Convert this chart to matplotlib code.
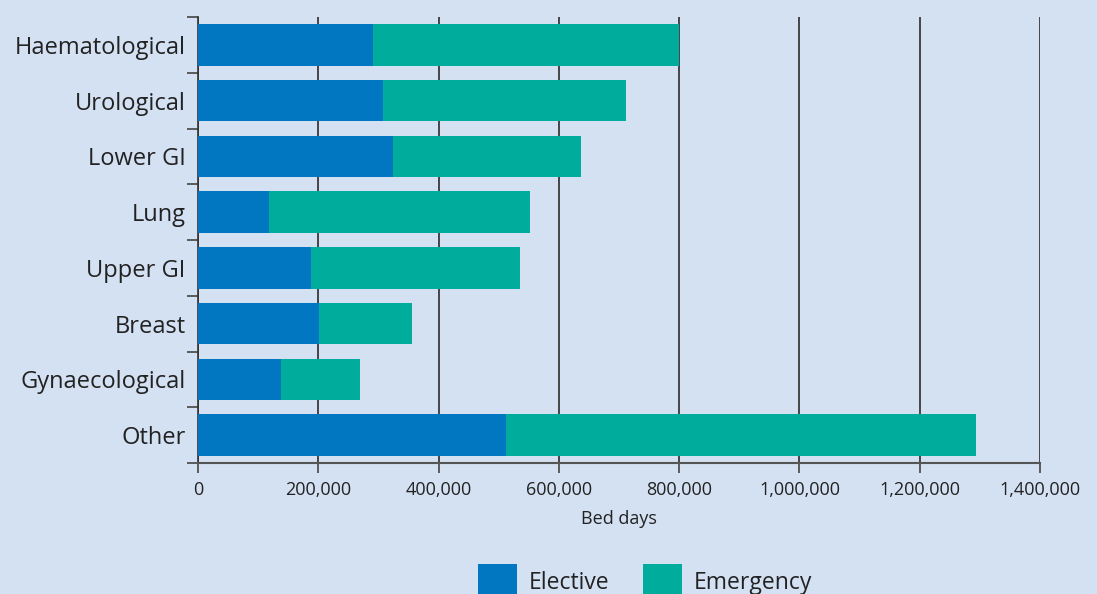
import matplotlib.pyplot as plt
import numpy as np
from matplotlib.ticker import FuncFormatter

# Bed days by tumour site
sites = ['Haematological', 'Urological', 'Lower GI', 'Lung',
         'Upper GI', 'Breast', 'Gynaecological', 'Other']
elective = [291000, 308000, 324000, 118000, 188000, 201000, 138000, 512000]
total = [799000, 711000, 637000, 552000, 535000, 356000, 269000, 1293000]
emergency = [t - e for t, e in zip(total, elective)]

bg = '#D4E1F3'
c_elec = '#0077C0'
c_emer = '#00AD9C'

plt.rcParams['font.family'] = ['Open Sans', 'DejaVu Sans']

fig = plt.figure(figsize=(10.97, 5.94), dpi=100, facecolor=bg)
ax = fig.add_axes([198 / 1097, 1 - 463 / 594, (1040 - 198) / 1097, (463 - 17) / 594])
ax.set_facecolor(bg)

y = np.arange(len(sites))
ax.barh(y, elective, height=0.74, color=c_elec, label='Elective', zorder=3)
ax.barh(y, emergency, left=elective, height=0.74, color=c_emer, label='Emergency', zorder=3)

ax.set_xlim(0, 1400000)
ax.set_ylim(len(sites) - 0.5, -0.5)

# vertical grid lines
ax.set_xticks(np.arange(0, 1400001, 200000))
ax.xaxis.set_major_formatter(FuncFormatter(lambda v, p: f'{int(v):,}'))
ax.grid(axis='x', color='#2b2b2b', linewidth=1.2, zorder=1)
ax.tick_params(axis='x', direction='out', length=7, width=1.2, color='#444444',
               labelsize=13, labelcolor='#222222', pad=6)

# category labels, ticks on category boundaries
ax.set_yticks(y)
ax.set_yticklabels(sites, fontsize=17, color='#222222')
ax.tick_params(axis='y', which='major', length=0, pad=9)
ax.set_yticks(np.arange(-0.5, len(sites)), minor=True)
ax.tick_params(axis='y', which='minor', direction='out', length=8, width=1.2, color='#444444')

for s in ['top', 'right']:
    ax.spines[s].set_visible(False)
ax.spines['left'].set_color('#333333')
ax.spines['left'].set_linewidth(1.2)
ax.spines['bottom'].set_color('#555555')
ax.spines['bottom'].set_linewidth(1.5)

ax.set_xlabel('Bed days', fontsize=13, color='#222222', labelpad=8)

fig.legend(loc='upper center', bbox_to_anchor=(645 / 1097, 1 - 543 / 594), ncol=2,
           frameon=False, fontsize=16.5, handlelength=1.7, handleheight=2.0,
           columnspacing=1.5, handletextpad=0.5, labelcolor='#222222')

fig.savefig('out.png', dpi=100, facecolor=bg)
